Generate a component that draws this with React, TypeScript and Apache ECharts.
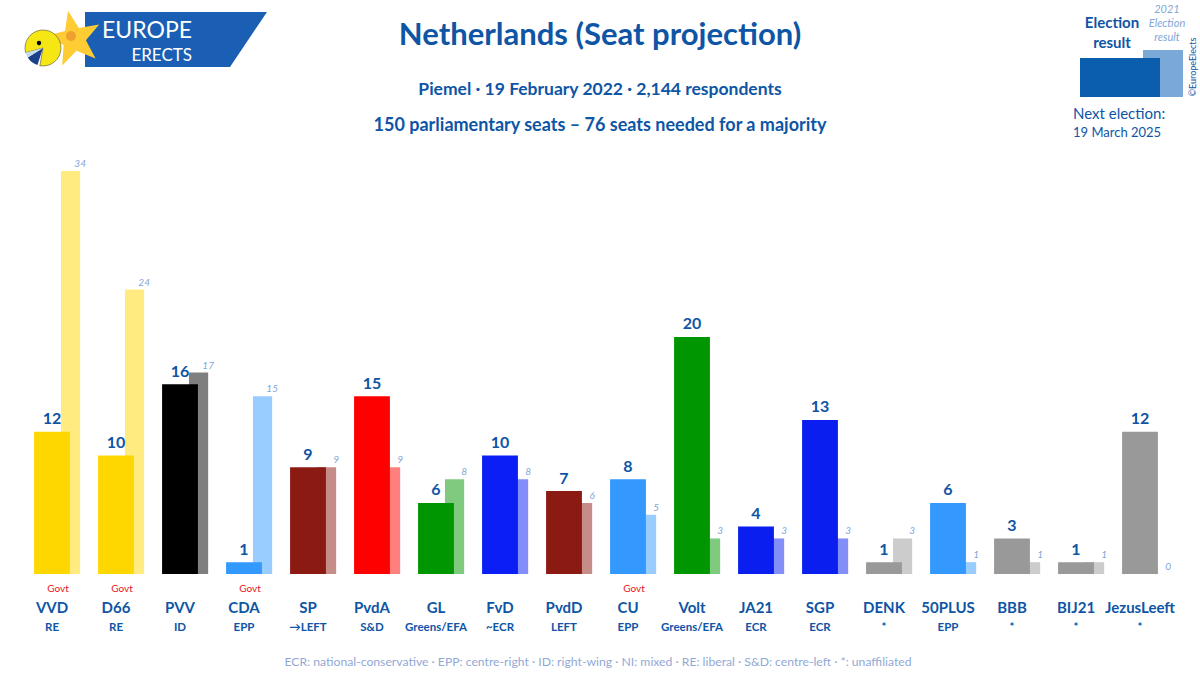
import React, { useEffect, useRef } from "react";
import * as echarts from "echarts";

const parties = ["VVD", "D66", "PVV", "CDA", "SP", "PvdA", "GL", "FvD", "PvdD", "CU", "Volt", "JA21", "SGP", "DENK", "50PLUS", "BBB", "BIJ21", "JezusLeeft"];
const groups = ["RE", "RE", "ID", "EPP", "→LEFT", "S&D", "Greens/EFA", "~ECR", "LEFT", "EPP", "Greens/EFA", "ECR", "ECR", "*", "EPP", "*", "*", "*"];
const projection = [12, 10, 16, 1, 9, 15, 6, 10, 7, 8, 20, 4, 13, 1, 6, 3, 1, 12];
const result2021 = [34, 24, 17, 15, 9, 9, 8, 8, 6, 5, 3, 3, 3, 3, 1, 1, 1, 0];
const government = ["VVD", "D66", "CDA", "CU"];

const partyColors = ["#FFD700", "#FFD700", "#000000", "#3399FF", "#8B1A12", "#FF0000", "#009600", "#0A1EF5", "#8B1A12", "#3399FF", "#009600", "#0A1EF0", "#0A1EF0", "#999999", "#3399FF", "#999999", "#999999", "#999999"];

const FONT = "Lato, 'Noto Sans', sans-serif";
const BLUE = "#0E55A5";
const LIGHT = "#7FA6D6";

function starPoints(cx: number, cy: number, R: number, r: number, rot: number) {
  const pts: number[][] = [];
  for (let i = 0; i < 10; i++) {
    const a = rot + (i * Math.PI) / 5;
    const rad = i % 2 === 0 ? R : r;
    pts.push([cx + rad * Math.sin(a), cy - rad * Math.cos(a)]);
  }
  return pts;
}

export default function App() {
  const ref = useRef<HTMLDivElement>(null);
  useEffect(() => {
    if (!ref.current) return;
    const chart = echarts.init(ref.current, null, { renderer: "svg" });
    const deg = Math.PI / 180;
    const option: any = {
      animation: false,
      backgroundColor: "#ffffff",
      grid: { left: 20, right: 28, top: 171, bottom: 101, containLabel: false },
      xAxis: {
        type: "category",
        data: parties,
        axisLine: { show: false },
        axisTick: { show: false },
        axisLabel: {
          interval: 0,
          margin: 7,
          formatter: (v: string, i: number) =>
            `{gov|${government.includes(v) ? "Govt" : " "}}\n{n|${v}}\n{g|${groups[i]}}`,
          rich: {
            gov: { fontFamily: FONT, fontSize: 10, color: "#E8141E", lineHeight: 14, padding: [0, 0, 0, 12] },
            n: { fontFamily: FONT, fontSize: 15, fontWeight: "bold", color: BLUE, lineHeight: 23 },
            g: { fontFamily: FONT, fontSize: 11.5, fontWeight: "bold", color: BLUE, lineHeight: 16 },
          },
        },
      },
      yAxis: { type: "value", min: 0, max: 34, show: false, splitLine: { show: false } },
      series: [
        {
          type: "custom",
          data: projection.map((v, i) => [i, v, result2021[i]]),
          renderItem: (params: any, api: any) => {
            const i = api.value(0);
            const main = api.value(1);
            const prev = api.value(2);
            const base = api.coord([i, 0]);
            const topMain = api.coord([i, main]);
            const topPrev = api.coord([i, prev]);
            const band = api.size([1, 0])[0];
            const mw = band * 0.56;
            const pl = base[0] + band * 0.14;
            const pw = band * 0.3;
            const color = partyColors[i];
            return {
              type: "group",
              children: [
                { type: "rect", shape: { x: pl, y: topPrev[1], width: pw, height: base[1] - topPrev[1] }, style: { fill: color, opacity: 0.5 } },
                { type: "rect", shape: { x: base[0] - mw / 2, y: topMain[1], width: mw, height: base[1] - topMain[1] }, style: { fill: color } },
                { type: "text", x: base[0], y: topMain[1] - 6, style: { text: String(main), fill: BLUE, fontFamily: FONT, fontSize: 16, fontWeight: "bold", align: "center", verticalAlign: "bottom" } },
                { type: "text", x: pl + pw, y: topPrev[1] - 3, style: { text: String(prev), fill: LIGHT, fontFamily: FONT, fontSize: 10, fontStyle: "italic", align: "center", verticalAlign: "bottom" } },
              ],
            };
          },
        },
      ],
      graphic: [
        // logo banner
        { type: "polygon", shape: { points: [[85, 12], [267, 12], [230, 67], [85, 67]] }, style: { fill: "#1A5FB4" } },
        { type: "polygon", shape: { points: starPoints(74, 39, 29, 12, -12 * deg) }, style: { fill: "#FFCC33" } },
        { type: "circle", shape: { cx: 71, cy: 36, r: 5 }, style: { fill: "#F0A030" } },
        { type: "sector", shape: { cx: 43, cy: 48, r: 18, startAngle: 165 * deg, endAngle: 460 * deg, clockwise: true }, style: { fill: "#F5E614", stroke: "#333", lineWidth: 0.5 } },
        { type: "sector", shape: { cx: 43, cy: 48, r: 18, startAngle: 108 * deg, endAngle: 148 * deg, clockwise: true }, style: { fill: "#1C3F8A" } },
        { type: "sector", shape: { cx: 43, cy: 48, r: 18, startAngle: 148 * deg, endAngle: 165 * deg, clockwise: true }, style: { fill: "#C5DCF0" } },
        { type: "circle", shape: { cx: 39, cy: 43, r: 2.2 }, style: { fill: "#000" } },
        { type: "text", x: 192, y: 29, style: { text: "EUROPE", fill: "#fff", fontFamily: FONT, fontSize: 23, align: "right", verticalAlign: "middle" } },
        { type: "text", x: 192, y: 54, style: { text: "ERECTS", fill: "#fff", fontFamily: FONT, fontSize: 17, align: "right", verticalAlign: "middle" } },
        // titles
        { type: "text", x: 600, y: 33, style: { text: "Netherlands (Seat projection)", fill: BLUE, fontFamily: FONT, fontSize: 31, fontWeight: "bold", align: "center", verticalAlign: "middle" } },
        { type: "text", x: 600, y: 88, style: { text: "Piemel · 19 February 2022 · 2,144 respondents", fill: BLUE, fontFamily: FONT, fontSize: 17.5, fontWeight: "bold", align: "center", verticalAlign: "middle" } },
        { type: "text", x: 600, y: 124, style: { text: "150 parliamentary seats – 76 seats needed for a majority", fill: BLUE, fontFamily: FONT, fontSize: 18, fontWeight: "bold", align: "center", verticalAlign: "middle" } },
        // legend top-right
        { type: "rect", shape: { x: 1143, y: 50, width: 40, height: 47 }, style: { fill: "#7AA9D8" } },
        { type: "rect", shape: { x: 1080, y: 58, width: 80, height: 39 }, style: { fill: "#0B5EAD" } },
        { type: "text", x: 1112, y: 22, style: { text: "Election", fill: BLUE, fontFamily: FONT, fontSize: 15, fontWeight: "bold", align: "center", verticalAlign: "middle" } },
        { type: "text", x: 1112, y: 42, style: { text: "result", fill: BLUE, fontFamily: FONT, fontSize: 15, fontWeight: "bold", align: "center", verticalAlign: "middle" } },
        { type: "text", x: 1167, y: 8, style: { text: "2021", fill: LIGHT, fontFamily: FONT, fontSize: 11, fontStyle: "italic", align: "center", verticalAlign: "middle" } },
        { type: "text", x: 1167, y: 22, style: { text: "Election", fill: LIGHT, fontFamily: FONT, fontSize: 11, fontStyle: "italic", align: "center", verticalAlign: "middle" } },
        { type: "text", x: 1167, y: 36, style: { text: "result", fill: LIGHT, fontFamily: FONT, fontSize: 11, fontStyle: "italic", align: "center", verticalAlign: "middle" } },
        { type: "text", x: 1192, y: 67, rotation: Math.PI / 2, style: { text: "©EuropeElects", fill: BLUE, fontFamily: FONT, fontSize: 9, align: "center", verticalAlign: "middle" } },
        { type: "text", x: 1073, y: 113, style: { text: "Next election:", fill: BLUE, fontFamily: FONT, fontSize: 15, align: "left", verticalAlign: "middle" } },
        { type: "text", x: 1073, y: 132, style: { text: "19 March 2025", fill: BLUE, fontFamily: FONT, fontSize: 13, align: "left", verticalAlign: "middle" } },
        // footer
        { type: "text", x: 598, y: 661, style: { text: "ECR: national-conservative · EPP: centre-right · ID: right-wing · NI: mixed · RE: liberal · S&D: centre-left · *: unaffiliated", fill: "#92A9D6", fontFamily: FONT, fontSize: 12.2, align: "center", verticalAlign: "middle" } },
      ],
    };
    chart.setOption(option);
    return () => chart.dispose();
  }, []);
  return <div ref={ref} style={{ position: "absolute", left: 0, top: 0, width: 1200, height: 675 }} />;
}
